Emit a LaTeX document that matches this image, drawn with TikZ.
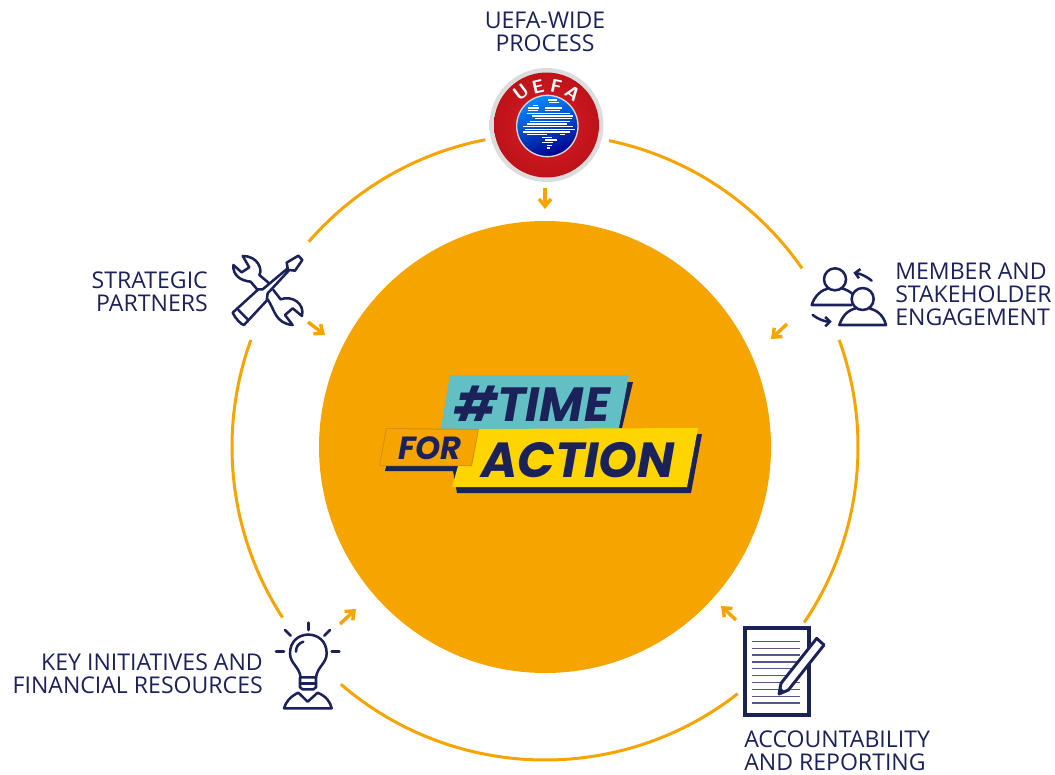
\documentclass[tikz,border=0pt]{standalone}
\usepackage{fontspec}
\setmainfont{Open Sans}
\newfontfamily\badgefont{Poppins}
\usetikzlibrary{arrows.meta}
\definecolor{navyink}{HTML}{1B2159}
\definecolor{ringgold}{HTML}{F6A400}
\definecolor{badgeteal}{HTML}{62BFC4}
\definecolor{badgeyellow}{HTML}{FFD500}
\definecolor{logored}{HTML}{DA1F26}
\definecolor{logodark}{HTML}{BE1219}
\tikzset{
  ringarc/.style={draw=ringgold,line width=2.25pt},
  tipline/.style={draw=ringgold,line width=2.6pt,-{Straight Barb[length=5.5pt,width=9pt,line width=2.6pt]}},
  steplabel/.style={font=\fontsize{17.3}{17.25}\selectfont,text=navyink,inner sep=0pt},
  iconline/.style={draw=navyink,line width=1.9pt,line join=round,line cap=round},
  zoomat/.style={shift={(#1)},x=0.25pt,y=-0.25pt},
}
\begin{document}
\begin{tikzpicture}[x=0.75pt,y=-0.75pt]
\useasboundingbox (0,0) rectangle (1055,774);
\coordinate (mid) at (545,447);

% ring, broken at every icon
\draw[ringarc] (mid) ++(-78.2:313) arc (-78.2:-34.8:313);
\draw[ringarc] (mid) ++(-20:313) arc (-20:34.1:313);
\draw[ringarc] (mid) ++(52:313) arc (52:130.7:313);
\draw[ringarc] (mid) ++(147:313) arc (147:200:313);
\draw[ringarc] (mid) ++(221:313) arc (221:259:313);

\node[circle,fill=ringgold,minimum size=339pt,inner sep=0pt] (hub) at (mid) {};

% small arrows
\coordinate (topA) at (545,188); \coordinate (topB) at (545,209);
\coordinate (leftA) at (308,322); \coordinate (leftB) at (325,335);
\coordinate (rightA) at (787,324); \coordinate (rightB) at (771,339);
\coordinate (lowA) at (340,624); \coordinate (lowB) at (356,609);
\coordinate (repA) at (736,620); \coordinate (repB) at (721,606);
\draw[tipline] (topA) -- (topB);
\draw[tipline] (leftA) -- (leftB);
\draw[tipline] (rightA) -- (rightB);
\draw[tipline] (lowA) -- (lowB);
\draw[tipline] (repA) -- (repB);

% badge
\fill[navyink] (600,382) -- (633,382) -- (622,428) -- (600,428) -- cycle;
\fill[badgeteal] (450,375) -- (629,375) -- (618,433) -- (440,433) -- cycle;
\fill[navyink] (390,450) -- (702,434) -- (691,493) -- (457,493) -- (453,471) -- (385,471) -- cycle;
\fill[badgeyellow] (478,429) -- (698,428) -- (687,487) -- (452,487) -- (458,466) -- cycle;
\fill[ringgold!85!black!95] (386,428) -- (479,429) -- (472,466) -- (379,466) -- cycle;
\fill[ringgold] (387,429) -- (478,430) -- (471,465) -- (380,465) -- cycle;
\node[font=\badgefont\bfseries\itshape\fontsize{36}{36}\selectfont,text=navyink,inner sep=0pt] (timeword) at (532,404) {\#TIME};
\node[font=\badgefont\bfseries\itshape\fontsize{37}{37}\selectfont,text=navyink,inner sep=0pt] (actionword) at (578,460) {ACTION};
\node[font=\badgefont\bfseries\itshape\fontsize{24}{24}\selectfont,text=navyink,inner sep=0pt] (forword) at (430,448) {FOR};

% uefa logo
\shade[inner color=white,outer color=black!14] (546.5,125) circle (57);
\shade[inner color=logored,outer color=logodark] (546.5,125) circle (52.5);
\begin{scope}[zoomat={470,60}]
\shade[left color=cyan!55!blue,right color=blue!55!black,shading angle=20,draw=white!85!black,line width=1pt] (232,198) circle (92);
\begin{scope}
\clip (232,198) circle (90);
\foreach \y/\a/\b in {120/235/262,128/238/268,136/190/205,144/175/208,144/225/275,152/175/205,152/225/270,160/170/300,168/185/310,176/195/305,184/180/300,192/170/290,200/160/310,208/165/315,216/160/300,224/170/230,224/270/285,232/215/245,240/225/260,248/215/250,256/230/245,264/232/240}
  \draw[white,line width=0.8pt] (\a,\y) -- (\b,\y);
\end{scope}
\foreach \t/\px/\py/\r in {U/152/97/37,E/204/80/13,F/259/80/-12,A/308/100/-36}
  \node[font=\sffamily\bfseries\fontsize{14}{14}\selectfont,text=white,rotate=\r,inner sep=0pt] (logo\t) at (\px,\py) {\t};
\end{scope}

% labels
\node[steplabel,align=center,anchor=north] (uefalabel) at (545,12) {UEFA-WIDE\\PROCESS};
\node[steplabel,align=right,anchor=north east] (partnerlabel) at (208,272) {STRATEGIC\\PARTNERS};
\node[steplabel,align=left,anchor=north west] (memberlabel) at (895,263) {MEMBER AND\\STAKEHOLDER\\ENGAGEMENT};
\node[steplabel,align=right,anchor=north east] (keylabel) at (263,654) {KEY INITIATIVES AND\\FINANCIAL RESOURCES};
\node[steplabel,align=left,anchor=north west] (reportlabel) at (744,730.5) {ACCOUNTABILITY\\AND REPORTING};

% tools icon
\begin{scope}[zoomat={220,240},iconline]
\draw (113,150) -- (92,125) .. controls (60,122) and (38,105) .. (40,75) -- (65,97) -- (88,82) -- (68,48) .. controls (115,48) and (128,90) .. (118,105) -- (150,132);
\draw (160,150) -- (182,178) .. controls (215,165) and (255,190) .. (246,228) -- (218,205) -- (195,225) -- (218,255) .. controls (165,250) and (165,210) .. (143,178);
\draw[fill=white] (38,218) -- (115,148) -- (128,148) -- (203,85) -- (200,68) -- (235,47) -- (247,60) -- (225,92) -- (208,90) -- (143,160) -- (140,182) -- (72,255) .. controls (65,255) and (45,235) .. (38,218) -- cycle;
\draw (55,210) -- (85,240);
\end{scope}

% people icon
\begin{scope}[zoomat={760,250},iconline]
\draw (225,88) circle (33);
\draw (205,115) .. controls (185,120) and (165,135) .. (155,165) -- (275,165);
\draw (245,115) .. controls (258,118) and (270,125) .. (278,132);
\draw[fill=white] (308,147) circle (33);
\draw (288,175) .. controls (265,180) and (248,195) .. (238,225) -- (378,225) .. controls (370,195) and (350,180) .. (328,175);
\coordinate (swapA) at (335,92); \coordinate (swapB) at (280,68);
\coordinate (swapC) at (158,195); \coordinate (swapD) at (215,215);
\draw[-{Straight Barb[length=3.5pt,width=7pt,line width=1.9pt]}] (swapA) .. controls (320,80) and (305,72) .. (swapB);
\draw[-{Straight Barb[length=3.5pt,width=7pt,line width=1.9pt]}] (swapC) .. controls (175,208) and (195,215) .. (swapD);
\end{scope}

% bulb icon
\begin{scope}[zoomat={270,600},iconline]
\draw (115,68) -- (115,90);
\draw (45,90) -- (62,107);
\draw (180,90) -- (163,107);
\draw (18,155) -- (42,155);
\draw (185,155) -- (208,155);
\draw (92,232) .. controls (88,200) and (60,190) .. (60,160) .. controls (60,85) and (170,85) .. (170,160) .. controls (170,190) and (142,200) .. (138,232);
\draw (90,232) -- (138,232) -- (138,262) -- (130,268) -- (98,268) -- (90,262) -- cycle;
\draw (90,250) -- (138,250);
\draw (78,155) .. controls (78,140) and (85,130) .. (100,125);
\draw (42,325) -- (185,325) .. controls (180,305) and (170,290) .. (143,278) -- (113,305) -- (85,278) .. controls (60,290) and (48,305) .. (42,325);
\end{scope}

% report icon
\begin{scope}[zoomat={710,600}]
\draw[navyink,line width=3pt,fill=white] (105,85) rectangle (297,345);
\foreach \y in {124,145,165,186,206,227,247,268,289,309}
  \draw[navyink!75,line width=1.1pt] (125,\y) -- (270,\y);
\draw[iconline,fill=white,line width=2.2pt] (320,115) -- (342,135) -- (235,270) -- (207,282) -- (213,250) -- cycle;
\fill[navyink] (207,282) -- (211,262) -- (223,274) -- cycle;
\end{scope}
\end{tikzpicture}
\end{document}
